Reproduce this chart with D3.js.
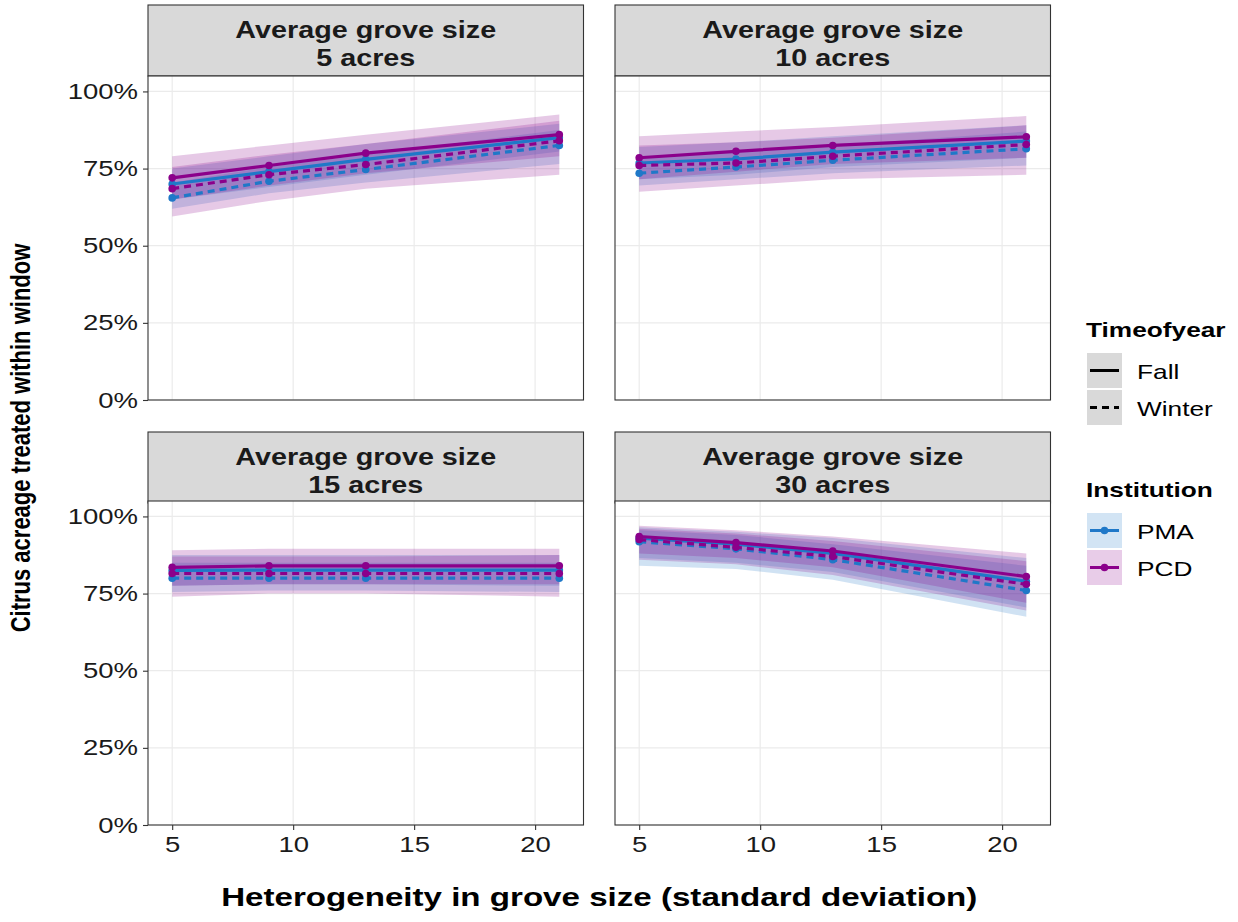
<!DOCTYPE html>
<html>
<head>
<meta charset="utf-8">
<script src="https://cdn.jsdelivr.net/npm/d3@7"></script>
<style>
  body { margin: 0; background: #fff; }
  text { font-family: "Liberation Sans", Arial, sans-serif; }
</style>
</head>
<body>
<div id="chart"></div>
<script>
// datos (porcentaje tratado dentro de la ventana)
const sdValues = [5, 9, 13, 21];
const groveSizes = ["5 acres", "10 acres", "15 acres", "30 acres"];
const xTicks = [5, 10, 15, 20];
const yTicks = [0, 0.25, 0.5, 0.75, 1];

// una fila por panel (5, 10, 15, 30 acres), una columna por sd
const pcdFall = [[72, 76, 80, 86], [78.5, 80.6, 82.5, 85.3], [83.5, 84, 84, 84], [93.5, 91.5, 88.8, 80.5]];
const pcdFallLo = [[65, 69.5, 73.5, 79], [71.5, 74, 76.5, 78.5], [77.5, 78, 78, 78], [88, 86.5, 83.5, 72]];
const pcdFallHi = [[79, 82.5, 86, 92.5], [85.5, 87, 88.5, 92], [89, 89.5, 89.5, 89.5], [97, 95.5, 93.5, 88]];

const pmaFall = [[70, 74, 78, 85], [76.8, 78.1, 80.3, 83.9], [82.5, 82.6, 82.6, 82.6], [93, 91, 88, 79]];
const pmaFallLo = [[65, 69, 73, 80.5], [71.5, 73, 75.5, 78.5], [77.5, 78, 78, 77.5], [86.5, 85, 82, 70.5]];
const pmaFallHi = [[75, 79, 83, 89.5], [82, 83.5, 85.5, 89], [87.5, 87.5, 87.5, 87.5], [96.5, 95, 93, 86.5]];

const pcdWinter = [[68.5, 73, 76.3, 84], [76, 76.8, 79, 82.8], [81.5, 81.5, 81.5, 81.5], [92.5, 90, 87, 78]];
const pcdWinterLo = [[59.5, 64.5, 68.5, 73], [67.5, 69.5, 71.5, 73], [74, 75, 75, 74], [86, 84.5, 81, 69.5]];
const pcdWinterHi = [[75.5, 79.5, 83, 90.5], [82.5, 83.5, 85, 89], [87, 87, 87, 87.5], [96, 94.5, 92, 85.5]];

const pmaWinter = [[65.5, 70.9, 74.7, 82.5], [73.5, 75.5, 77.7, 81.4], [80, 80, 80, 80], [91.8, 89.5, 86, 76]];
const pmaWinterLo = [[62, 67, 70.5, 76.5], [69.5, 71.5, 73.5, 76], [75.5, 76, 76, 75.5], [84, 83, 79.5, 67.5]];
const pmaWinterHi = [[70.5, 75.5, 79.5, 87.5], [78.5, 80.5, 82.5, 87], [85, 85, 85, 85], [95.5, 94, 91, 84]];

const institutions = ["PMA", "PCD"];
const seasons = ["Fall", "Winter"];

const W = 1238, H = 922;
const SX = 1.25; // el texto del original sale ensanchado en horizontal
const colX = [148, 615], panelW = 435.5;
const stripTop = [5, 432], stripH = 71;
const plotTop = [76, 501], plotH = 324;

const color = d3.scaleOrdinal().domain(institutions).range(["#1f78c8", "#8b008b"]);
const dash = d3.scaleOrdinal().domain(seasons).range(["none", "7,5"]);

// series en el orden en que ggplot las dibuja
const series = [
  { inst: "PMA", season: "Fall", mid: pmaFall, lo: pmaFallLo, hi: pmaFallHi },
  { inst: "PMA", season: "Winter", mid: pmaWinter, lo: pmaWinterLo, hi: pmaWinterHi },
  { inst: "PCD", season: "Fall", mid: pcdFall, lo: pcdFallLo, hi: pcdFallHi },
  { inst: "PCD", season: "Winter", mid: pcdWinter, lo: pcdWinterLo, hi: pcdWinterHi }
];

const svg = d3.select("#chart").append("svg").attr("width", W).attr("height", H);

// texto ensanchado en x alrededor de su punto de anclaje
function label(parent, x, y, txt, size, opts = {}) {
  return parent.append("text")
    .attr("transform", `translate(${x},${y}) scale(${SX},1)` + (opts.rotate ? ` rotate(${opts.rotate})` : ""))
    .attr("text-anchor", opts.anchor || "start")
    .attr("font-size", size)
    .attr("font-weight", opts.bold ? "bold" : "normal")
    .attr("fill", opts.fill || "#000")
    .text(txt);
}

groveSizes.forEach((size, p) => {
  const col = p % 2, row = Math.floor(p / 2);
  const x0 = colX[col], y0 = plotTop[row];
  const x = d3.scaleLinear().domain([4, 22]).range([x0, x0 + panelW]);
  const y = d3.scaleLinear().domain([0, 1.05]).range([y0 + plotH, y0]);

  // strip
  const strip = svg.append("g");
  strip.append("rect")
    .attr("x", x0).attr("y", stripTop[row])
    .attr("width", panelW).attr("height", stripH)
    .attr("fill", "#d9d9d9").attr("stroke", "#333").attr("stroke-width", 1.1);
  label(strip, x0 + panelW / 2, stripTop[row] + 33, "Average grove size", 23, { anchor: "middle", bold: true, fill: "#1a1a1a" });
  label(strip, x0 + panelW / 2, stripTop[row] + 61, size, 23, { anchor: "middle", bold: true, fill: "#1a1a1a" });

  const g = svg.append("g");
  g.append("rect").attr("x", x0).attr("y", y0).attr("width", panelW).attr("height", plotH).attr("fill", "#fff");

  // rejilla
  g.selectAll(".gx").data(xTicks).join("line")
    .attr("x1", d => x(d)).attr("x2", d => x(d))
    .attr("y1", y0).attr("y2", y0 + plotH)
    .attr("stroke", "#ebebeb").attr("stroke-width", 1.2);
  g.selectAll(".gy").data(yTicks).join("line")
    .attr("x1", x0).attr("x2", x0 + panelW)
    .attr("y1", d => y(d)).attr("y2", d => y(d))
    .attr("stroke", "#ebebeb").attr("stroke-width", 1.2);

  // bandas
  const area = d3.area()
    .x((d, i) => x(sdValues[i]))
    .y0(d => y(d[0] / 100)).y1(d => y(d[1] / 100));
  series.forEach(s => {
    const band = s.lo[p].map((v, i) => [v, s.hi[p][i]]);
    g.append("path").datum(band)
      .attr("d", area)
      .attr("fill", color(s.inst)).attr("fill-opacity", 0.21);
  });

  // lineas y puntos
  const line = d3.line().x((d, i) => x(sdValues[i])).y(d => y(d / 100));
  series.forEach(s => {
    g.append("path").datum(s.mid[p])
      .attr("d", line).attr("fill", "none")
      .attr("stroke", color(s.inst)).attr("stroke-width", 3.2)
      .attr("stroke-dasharray", dash(s.season));
    g.selectAll(null).data(s.mid[p]).join("circle")
      .attr("cx", (d, i) => x(sdValues[i])).attr("cy", d => y(d / 100))
      .attr("r", 3.8).attr("fill", color(s.inst));
  });

  g.append("rect").attr("x", x0).attr("y", y0).attr("width", panelW).attr("height", plotH)
    .attr("fill", "none").attr("stroke", "#333").attr("stroke-width", 1.1);

  // ejes: y solo en la columna izquierda, x solo en la fila de abajo
  if (col === 0) {
    const ay = svg.append("g").attr("transform", `translate(${x0},0)`)
      .call(d3.axisLeft(y).tickValues(yTicks).tickFormat(d3.format(".0%")).tickSize(5).tickPadding(3));
    ay.select(".domain").remove();
    ay.selectAll(".tick line").attr("stroke", "#333").attr("stroke-width", 1.1);
    ay.selectAll(".tick text").attr("font-size", 22).attr("fill", "#1a1a1a")
      .attr("transform", `scale(${SX},1)`)
      .style("font-family", "Liberation Sans, Arial, sans-serif");
  }
  if (row === 1) {
    const ax = svg.append("g").attr("transform", `translate(0,${y0 + plotH})`)
      .call(d3.axisBottom(x).tickValues(xTicks).tickSize(5).tickPadding(6));
    ax.select(".domain").remove();
    ax.selectAll(".tick line").attr("stroke", "#333").attr("stroke-width", 1.1);
    ax.selectAll(".tick text").attr("font-size", 22).attr("fill", "#1a1a1a")
      .attr("transform", `scale(${SX},1)`)
      .style("font-family", "Liberation Sans, Arial, sans-serif");
  }
});

// titulos de ejes
label(svg, (colX[0] + colX[1] + panelW) / 2, 906, "Heterogeneity in grove size (standard deviation)", 26.5, { anchor: "middle", bold: true });
label(svg, 30, 438, "Citrus acreage treated within window", 22, { anchor: "middle", bold: true, rotate: -90 });

// leyendas
const leg = svg.append("g").attr("transform", "translate(1086,0)");
label(leg, 0, 337, "Timeofyear", 21, { bold: true });
seasons.forEach((s, i) => {
  const ky = 353 + i * 37;
  leg.append("rect").attr("x", 1).attr("y", ky).attr("width", 35).attr("height", 35).attr("fill", "#d9d9d9");
  leg.append("line").attr("x1", 4).attr("x2", 33).attr("y1", ky + 17.5).attr("y2", ky + 17.5)
    .attr("stroke", "#000").attr("stroke-width", 3).attr("stroke-dasharray", dash(s));
  label(leg, 51, ky + 26, s, 21);
});
label(leg, 0, 497, "Institution", 21, { bold: true });
institutions.forEach((s, i) => {
  const ky = 513 + i * 37;
  leg.append("rect").attr("x", 1).attr("y", ky).attr("width", 35).attr("height", 35)
    .attr("fill", color(s)).attr("fill-opacity", 0.2);
  leg.append("line").attr("x1", 4).attr("x2", 33).attr("y1", ky + 17.5).attr("y2", ky + 17.5)
    .attr("stroke", color(s)).attr("stroke-width", 3);
  leg.append("circle").attr("cx", 18.5).attr("cy", ky + 17.5).attr("r", 3.8).attr("fill", color(s));
  label(leg, 51, ky + 26, s, 21);
});
</script>
</body>
</html>
